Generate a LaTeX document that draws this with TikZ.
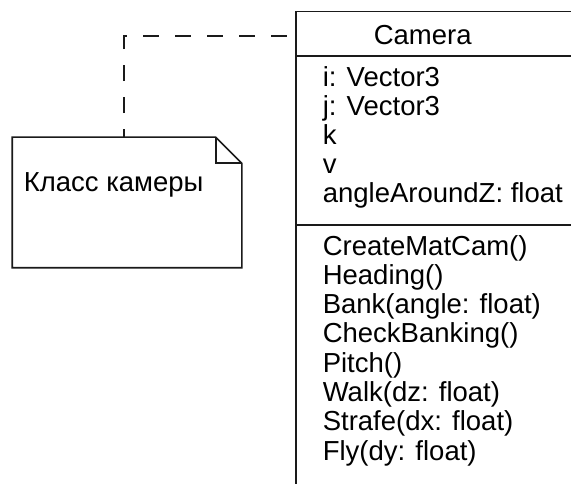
\documentclass[tikz,border=0pt]{standalone}
\usepackage{fontspec}
\setmainfont{Liberation Sans}
\usetikzlibrary{calc}
\definecolor{ink}{HTML}{1A1A1A}
\begin{document}
\begin{tikzpicture}[x=1pt,y=-1pt,line width=1.6pt,
  txt/.style={anchor=base west,inner sep=0pt,text=black,font=\fontsize{27.5}{29}\selectfont},
  boxline/.style={draw=ink,line width=1.6pt},
  conn/.style={draw=ink,line width=1.6pt,dash pattern=on 16pt off 16pt,dash phase=8pt}]
\useasboundingbox (0,0) rectangle (571,484);
\fill[white] (0,0) rectangle (571,484);
\clip (0,0) rectangle (571,484);
% class box
\node[boxline,anchor=north west,minimum width=320pt,minimum height=520pt,inner sep=0pt] (cls) at (295,10.7) {};
\coordinate (h1) at (295,56);
\coordinate (h2) at (295,225);
\draw[boxline] (h1) -- (h1 -| {(600,0)});
\draw[boxline] (h2) -- (h2 -| {(600,0)});
\node[txt] (title) at (373,45) {Camera};
\node[txt] (a1) at (322,87) {i: Vector3};
\node[txt] (a2) at (322,116) {j: Vector3};
\node[txt] (a3) at (322,145) {k};
\node[txt] (a4) at (322,174) {v};
\node[txt] (a5) at (322,203) {angleAroundZ: float};
\node[txt] (m1) at (322,255) {CreateMatCam()};
\node[txt] (m2) at (322,284.3) {Heading()};
\node[txt] (m3) at (322,313.6) {Bank(angle: float)};
\node[txt] (m4) at (322,342.9) {CheckBanking()};
\node[txt] (m5) at (322,372.2) {Pitch()};
\node[txt] (m6) at (322,401.5) {Walk(dz: float)};
\node[txt] (m7) at (322,430.8) {Strafe(dx: float)};
\node[txt] (m8) at (322,460.1) {Fly(dy: float)};
% note
\node[minimum width=228pt,minimum height=129pt,inner sep=0pt] (note) at (127,202.5) {};
\draw[boxline,fill=white,line join=miter]
  (note.north west) -- ([xshift=-26pt]note.north east) -- ([yshift=-26pt]note.north east)
  -- (note.south east) -- (note.south west) -- cycle;
\draw[boxline,line join=miter]
  ([xshift=-26pt]note.north east) -- ([xshift=-26pt,yshift=-26pt]note.north east) -- ([yshift=-26pt]note.north east);
\node[txt] (notetext) at (23,192) {Класс камеры};
% connector
\coordinate (clsport) at (295,36);
\draw[conn] ([xshift=112pt]note.north west) |- (clsport);
\end{tikzpicture}
\end{document}
